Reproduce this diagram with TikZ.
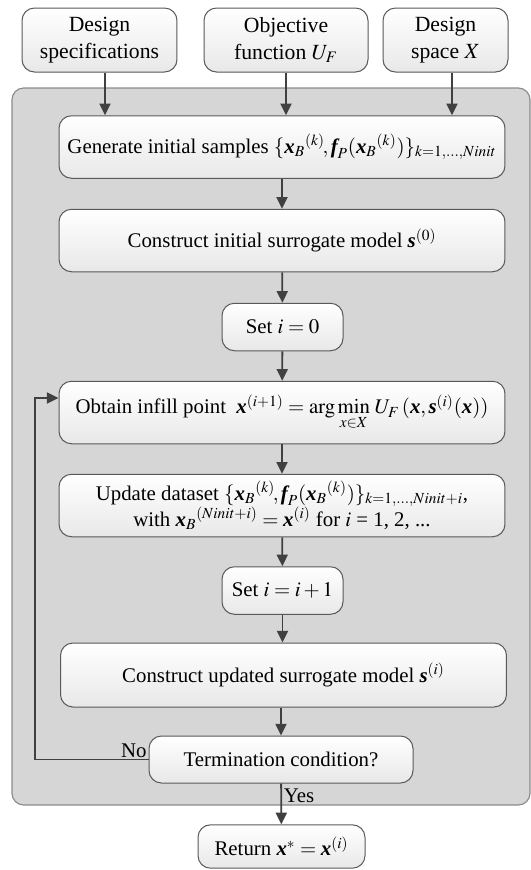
\documentclass[tikz,border=0pt]{standalone}
\usepackage{mathptmx}
\usepackage[no-math]{fontspec}
\setmainfont{Liberation Serif}
\usetikzlibrary{arrows.meta,positioning}
\newcommand{\bvec}[1]{\mbox{\bfseries\itshape #1}}
\tikzset{
	boxnode/.style = {align=center, inner sep=2pt, text centered, rounded corners=7.5pt, draw=black!65, line width=0.6pt, top color=white, bottom color=black!9, font=\fontsize{12.5}{15.6}\selectfont},
	procnode/.style = {boxnode, minimum width=267.6pt, minimum height=37.5pt},
	smallnode/.style = {boxnode, minimum width=72.6pt, minimum height=28.5pt},
	innode/.style = {boxnode, minimum height=38.4pt, font=\fontsize{13}{16.2}\selectfont},
	panel/.style = {rounded corners=7pt, fill=black!16, draw=black!45, line width=0.7pt},
	arr/.style = {draw=black!75, line width=1.1pt, -{Triangle[length=7pt,width=6.6pt]}},
	lbl/.style = {font=\fontsize{12.5}{15}\selectfont, inner sep=1pt}
}
\begin{document}
\begin{tikzpicture}[x=0.6pt, y=-0.6pt]
		\useasboundingbox (0,0) rectangle (531,870);
		\draw [panel] (12,88) rectangle (530,805);
		\node [innode, minimum width=93pt] (spec) at (99.5,40) {Design\\specifications};
		\node [innode, minimum width=98.4pt] (obj) at (286,40) {Objective\\function $U_F$};
		\node [innode, minimum width=75pt] (space) at (445.5,40) {Design\\space $X$};
		\node [procnode] (gen) at (282,147) {Generate initial samples $\{\bvec{x}_B{}^{(k)}\!,\bvec{f}_P(\bvec{x}_B{}^{(k)})\}_{k=1,\ldots,Ninit}$};
		\node [procnode] (init) at (282,240.5) {Construct initial surrogate model $\bvec{s}^{(0)}$};
		\node [smallnode] (set0) at (282.5,327) {Set $i = 0$};
		\node [procnode] (obtain) at (282,412.5) {Obtain infill point \ $\bvec{x}^{(i+1)} = \arg\min\limits_{x\in X}\, U_F\,(\bvec{x}, \bvec{s}^{(i)}(\bvec{x}))$};
		\node [procnode] (update) at (282,505.5) {Update dataset $\{\bvec{x}_B{}^{(k)}\!,\bvec{f}_P(\bvec{x}_B{}^{(k)})\}_{k=1,\ldots,Ninit+i}$,\\with $\bvec{x}_B{}^{(Ninit+i)} = \bvec{x}^{(i)}$ for $i$ = 1, 2, ...};
		\node [smallnode] (seti) at (282.5,590.5) {Set $i = i + 1$};
		\node [procnode, minimum height=38.4pt] (updmodel) at (283.5,675) {Construct updated surrogate model $\bvec{s}^{(i)}$};
		\node [boxnode, minimum width=158.4pt, minimum height=28.2pt] (term) at (281,759.5) {Termination condition?};
		\node [boxnode, minimum width=100.2pt, minimum height=26pt] (ret) at (281.5,846.5) {Return $\bvec{x}^{*} = \bvec{x}^{(i)}$};
		\coordinate (fbx) at (35,0);
		\draw [arr] ([xshift=3.3pt]spec.south) -- ([xshift=3.3pt]spec.south |- gen.north);
		\draw [arr] (obj.south) -- (obj.south |- gen.north);
		\draw [arr] ([xshift=3.9pt]space.south) -- ([xshift=3.9pt]space.south |- gen.north);
		\draw [arr] (gen) -- (init);
		\draw [arr] (init) -- (set0);
		\draw [arr] (set0) -- (obtain);
		\draw [arr] (obtain) -- (update);
		\draw [arr] (update) -- (seti);
		\draw [arr] (seti) -- (updmodel.north -| seti);
		\draw [arr] (updmodel.south -| term) -- (term);
		\draw [arr] (term) -- node [lbl, pos=0.3, right] {Yes} (ret);
		\draw [arr] (term.west) -- (term.west -| fbx) |- ([yshift=8.7pt]obtain.west);
		\node [lbl, anchor=south east] (no) at (term.west) {No};
\end{tikzpicture}
\end{document}
